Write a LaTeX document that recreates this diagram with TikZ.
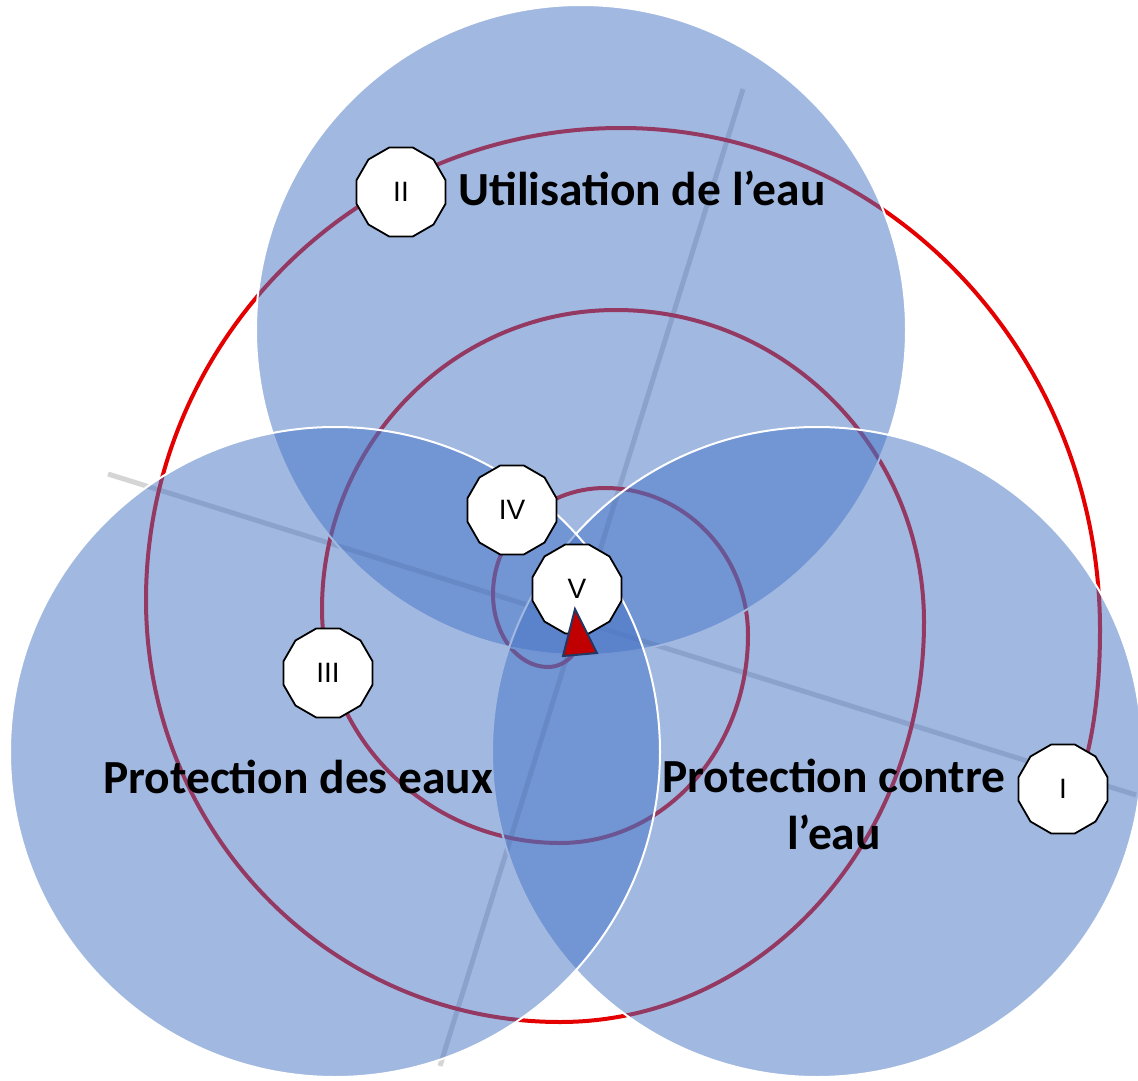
\documentclass[tikz,border=0pt]{standalone}
\usepackage{fontspec}
\setmainfont{Carlito}
\newfontfamily\numfont{Liberation Sans}
\usetikzlibrary{shapes.geometric,calc}
\definecolor{vennblue}{RGB}{68,114,196}
\definecolor{spiralred}{RGB}{228,0,0}
\definecolor{axisgray}{RGB}{190,190,190}
\definecolor{trired}{RGB}{192,0,0}
\definecolor{tridark}{RGB}{31,56,100}
\begin{document}
\begin{tikzpicture}[x=1pt,y=-1pt,
  venn/.style={fill=vennblue, fill opacity=0.5, draw=white, draw opacity=1, line width=2pt},
  spiral/.style={draw=spiralred, line width=4pt},
  axisline/.style={draw=axisgray, line width=5pt, draw opacity=0.65},
  numbox/.style={regular polygon, regular polygon sides=12, draw=black, line width=1.8pt, fill=white, minimum size=92pt, inner sep=0pt, font=\numfont\fontsize{28}{32}\selectfont},
  title/.style={font=\bfseries\fontsize{47.5}{57}\selectfont, text=black, inner sep=0pt},
  segH/.style 2 args={insert path={.. controls ($(#1)!0.5523!(#2|-#1)$) and ($(#2)!0.5523!(#2|-#1)$) .. (#2)}},
  segV/.style 2 args={insert path={.. controls ($(#1)!0.5523!(#1|-#2)$) and ($(#2)!0.5523!(#1|-#2)$) .. (#2)}},
]
\useasboundingbox (0,0) rectangle (1138,1081);
% axis lines
\coordinate (a1) at (108,474);
\coordinate (a2) at (1136,795);
\coordinate (b1a) at (743,89);
\coordinate (b2a) at (440,1066);
\draw[axisline] (a1) -- (a2);
\draw[axisline] (b1a) -- (b2a);
% spiral points
\coordinate (s0) at (575,652);
\coordinate (sb0) at (548,667);
\coordinate (sl0) at (493,594);
\coordinate (st0) at (605,488);
\coordinate (sr0) at (748,635);
\coordinate (sb1) at (560,843);
\coordinate (sl1) at (322,609);
\coordinate (st1) at (616,310);
\coordinate (sr1) at (924,622);
\coordinate (sb2) at (560,1022);
\coordinate (sl2) at (146,600);
\coordinate (st2) at (621,128);
\coordinate (sr2) at (1100,630);
\coordinate (se) at (1080,780);
\draw[spiral] (s0) .. controls (568,662) and (558,667) .. (sb0)
  [segH={sb0}{sl0}] [segV={sl0}{st0}] [segH={st0}{sr0}] [segV={sr0}{sb1}]
  [segH={sb1}{sl1}] [segV={sl1}{st1}] [segH={st1}{sr1}] [segV={sr1}{sb2}]
  [segH={sb2}{sl2}] [segV={sl2}{st2}] [segH={st2}{sr2}]
  .. controls (1100,690) and (1093,740) .. (se);
% venn circles
\draw[venn] (581,330) circle[radius=325pt];
\draw[venn] (817,752) circle[radius=325pt];
\draw[venn] (335,752) circle[radius=325pt];
% numbered boxes
\node[numbox] (nII) at (401,192) {II};
\node[numbox] (nIV) at (512,510) {IV};
\node[numbox] (nV) at (577,589) {V};
\node[numbox] (nIII) at (328,673) {III};
\node[numbox] (nI) at (1063,789) {I};
% triangle
\coordinate (ta) at (575,609);
\coordinate (tb) at (563,656);
\coordinate (tc) at (597,653);
\draw[fill=trired, draw=tridark, line width=2pt, line join=miter] (ta) -- (tb) -- (tc) -- cycle;
% titles
\node[title, anchor=base west] (tUse) at (458,205) {Utilisation de l’eau};
\node[title, anchor=base west] (tProt) at (103,793) {Protection des eaux};
\node[title, anchor=north, align=center] (tAgainst) at (834,759) {Protection contre\\l’eau};
\end{tikzpicture}
\end{document}
